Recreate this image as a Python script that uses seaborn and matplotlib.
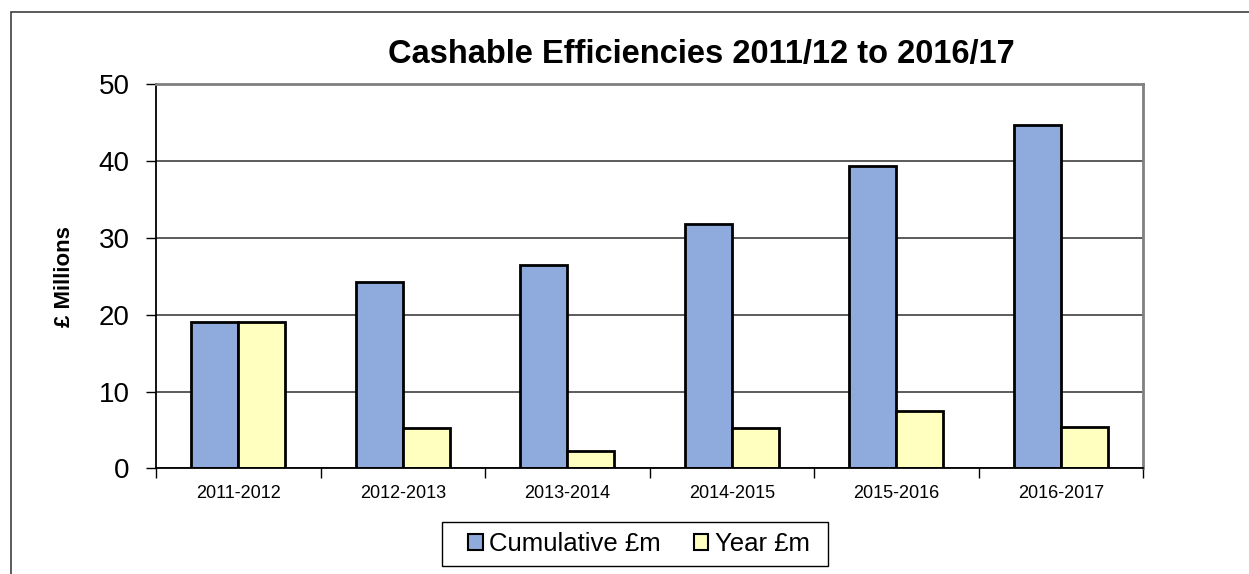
import matplotlib
matplotlib.use("Agg")
import matplotlib.pyplot as plt
import seaborn as sns
import pandas as pd
from matplotlib.patches import Patch, Rectangle

categories = ["2011-2012", "2012-2013", "2013-2014", "2014-2015", "2015-2016", "2016-2017"]
cumulative = [19.0, 24.2, 26.5, 31.8, 39.3, 44.7]
year = [19.0, 5.2, 2.3, 5.3, 7.5, 5.4]
series_names = ["Cumulative £m", "Year £m"]
title = "Cashable Efficiencies 2011/12 to 2016/17"
ylabel = "£ Millions"
yticks = [0, 10, 20, 30, 40, 50]

colors = ["#8FAADC", "#FFFFC0"]

df = pd.DataFrame({
    "Year": categories * 2,
    "Value": cumulative + year,
    "Series": [series_names[0]] * len(categories) + [series_names[1]] * len(categories),
})

sns.set_theme(style="white")
plt.rcParams["font.family"] = ["Liberation Sans", "DejaVu Sans"]
plt.rcParams["text.color"] = "black"
plt.rcParams["axes.labelcolor"] = "black"
plt.rcParams["xtick.color"] = "black"
plt.rcParams["ytick.color"] = "black"

W, H = 1249, 574
fig = plt.figure(figsize=(W / 100, H / 100), dpi=100)
left, right, top, bottom = 156, 1143, 84.3, 468.3
ax = fig.add_axes([left / W, 1 - bottom / H, (right - left) / W, (bottom - top) / H])

sns.barplot(data=df, x="Year", y="Value", hue="Series", palette=colors,
            width=0.57, dodge=True, ax=ax, legend=False,
            edgecolor="black", linewidth=2.0, saturation=1)

ax.set_xlim(-0.5, 5.5)
ax.set_ylim(0, 50)
ax.set_yticks(yticks)
ax.set_yticklabels([str(v) for v in yticks], fontsize=20)
ax.yaxis.grid(True, color="#404040", linewidth=1.2)
ax.set_axisbelow(True)

# x ticks: marks at category boundaries, labels at centres
ax.set_xticks([i - 0.5 for i in range(len(categories) + 1)])
ax.set_xticklabels([""] * (len(categories) + 1))
ax.set_xticks(range(len(categories)), minor=True)
ax.set_xticklabels(categories, minor=True, fontsize=13)
ax.tick_params(axis="x", which="major", direction="out", length=7, width=1, color="black", bottom=True)
ax.tick_params(axis="x", which="minor", length=0, pad=12, bottom=True)
ax.tick_params(axis="y", direction="out", length=7, width=1, color="black", left=True, pad=12)

ax.set_xlabel("")
ax.set_ylabel(ylabel, fontsize=16, fontweight="bold")
ax.yaxis.set_label_coords((75 - left) / (right - left), 0.5)

for s in ["left", "bottom"]:
    ax.spines[s].set_color("black")
    ax.spines[s].set_linewidth(1.3)
for s in ["top", "right"]:
    ax.spines[s].set_color("#808080")
    ax.spines[s].set_linewidth(2.0)
    ax.spines[s].set_visible(True)

fig.text(701 / W, 1 - 55 / H, title, ha="center", va="center",
         fontsize=23.5, fontweight="bold")

handles = [Patch(facecolor=c, edgecolor="black", linewidth=1.5) for c in colors]
leg = fig.legend(handles, series_names, loc="center", bbox_to_anchor=(639 / W, 1 - 544 / H),
                 ncol=2, fontsize=18.5, frameon=False,
                 handlelength=0.55, handleheight=0.55, handletextpad=0.25,
                 columnspacing=1.3, borderpad=0.35)

# legend box
fig.patches.append(Rectangle((442 / W, 1 - 566 / H), (828 - 442) / W, 44 / H,
                             transform=fig.transFigure, fill=False,
                             edgecolor="black", linewidth=1.0))

fig.patches.append(Rectangle((11 / W, -0.1), 1.2, 1 - 12 / H + 0.1, transform=fig.transFigure,
                             fill=False, edgecolor="#404040", linewidth=1.2))

fig.savefig("out.png", dpi=100)
